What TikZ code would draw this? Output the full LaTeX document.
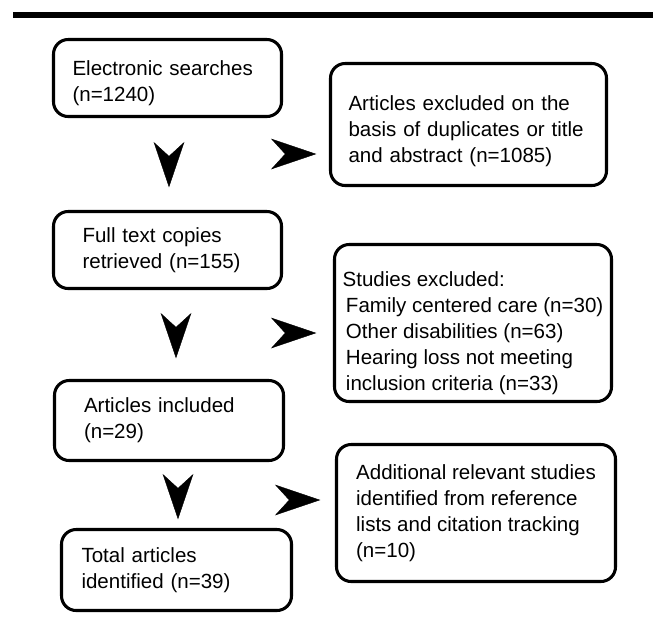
\documentclass[tikz,border=0pt]{standalone}
\usepackage{fontspec}
\setmainfont{Liberation Sans}
\usetikzlibrary{arrows.meta}
\newlength\pxl
\pxl=0.75pt
\newcommand\topgap[1]{\rule{0pt}{#1}}
\tikzset{
  box/.style={draw, line width=2.3pt, rounded corners=11pt, align=left,
    inner sep=0pt, font=\fontsize{15.4}{19.5}\selectfont},
  head/.style={->, line width=0.3pt, shorten <=11pt},
}
\begin{document}
\begin{tikzpicture}[x=0.75pt,y=-0.75pt]
	    \tikzset{>={Stealth[length=34pt,width=23pt,inset=10.5pt]}}
	    \useasboundingbox (0,0) rectangle (660,619);
	    \fill (13,12) rectangle (653,18);
	    % boxes
	    \node[box, minimum width=228\pxl, minimum height=77\pxl, text width=190\pxl] (search) at (167.5,78) {\topgap{19pt}Electronic searches\\(n=1240)};
	    \node[box, minimum width=276\pxl, minimum height=122\pxl, text width=240\pxl] (dupl) at (468.5,124.5) {\topgap{20.5pt}Articles excluded on the\\basis of duplicates or title\\and abstract (n=1085)};
	    \node[box, minimum width=228\pxl, minimum height=77\pxl, text width=170\pxl] (fulltext) at (167.5,250) {Full text copies\\retrieved (n=155)};
	    \node[box, minimum width=277\pxl, minimum height=157\pxl] (excl) at (473,323) {\topgap{26pt}Studies excluded:\\
	      \hspace*{2.5pt}Family centered care (n=30)\\
	      \hspace*{2.5pt}Other disabilities (n=63)\\
	      \hspace*{2.5pt}Hearing loss not meeting\\
	      \hspace*{2.5pt}inclusion criteria (n=33)};
	    \node[box, minimum width=229\pxl, minimum height=80\pxl, text width=170\pxl] (incl) at (169,420.5) {Articles included\\(n=29)};
	    \node[box, minimum width=230\pxl, minimum height=81\pxl, text width=190\pxl] (total) at (176.5,570) {Total articles\\identified (n=39)};
	    \node[box, minimum width=279\pxl, minimum height=137\pxl] (extra) at (476,513) {Additional relevant studies\\identified from reference\\lists and citation tracking\\(n=10)};
	    % arrow heads
	    \coordinate (d1a) at (169,142);
	    \coordinate (d1b) at (169,187.33);
	    \coordinate (d2a) at (176,313);
	    \coordinate (d2b) at (176,358.33);
	    \coordinate (d3a) at (178,474);
	    \coordinate (d3b) at (178,519.33);
	    \coordinate (r1a) at (271,154);
	    \coordinate (r1b) at (316.33,154);
	    \coordinate (r2a) at (271,333);
	    \coordinate (r2b) at (316.33,333);
	    \coordinate (r3a) at (275,500);
	    \coordinate (r3b) at (320.33,500);
	    \draw[head] (d1a) -- (d1b);
	    \draw[head] (d2a) -- (d2b);
	    \draw[head] (d3a) -- (d3b);
	    \draw[head] (r1a) -- (r1b);
	    \draw[head] (r2a) -- (r2b);
	    \draw[head] (r3a) -- (r3b);
\end{tikzpicture}
\end{document}
